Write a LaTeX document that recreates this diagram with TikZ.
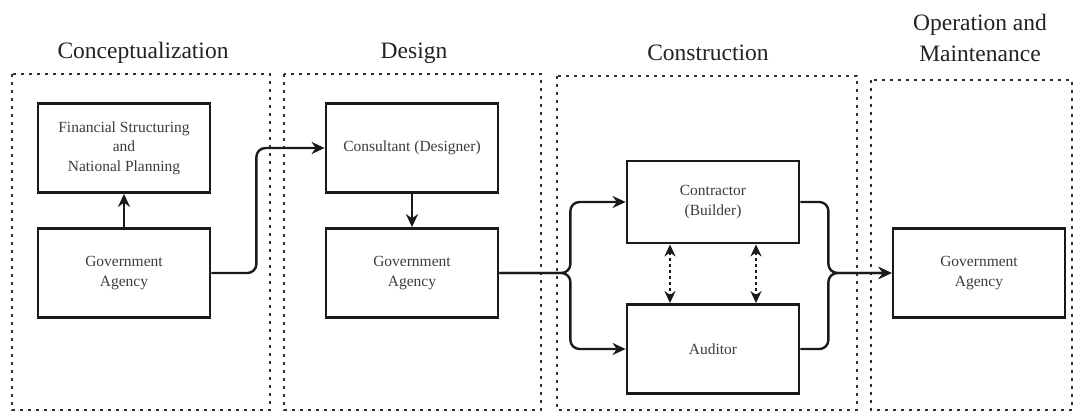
\documentclass[tikz,border=0pt]{standalone}
\usepackage{fontspec}
\setmainfont{Liberation Serif}
\usepackage{tikz}
\usetikzlibrary{arrows.meta, positioning, calc}

\definecolor{boxtext}{HTML}{3C3C3C}
\definecolor{titletext}{HTML}{222222}
\definecolor{lineblack}{HTML}{1A1A1A}

\begin{document}
\begin{tikzpicture}[
    x=1pt, y=-1pt,
    every node/.style={font=\fontsize{15.5}{19.5}\selectfont},
    actor/.style={rectangle, draw=lineblack, line width=2.8pt, text=boxtext, align=center, minimum width=172pt, minimum height=89pt, inner sep=2pt},
    phase/.style={draw=lineblack!90, line width=2.3pt, dash pattern=on 3pt off 5pt},
    phasetitle/.style={text=titletext, align=center, font=\fontsize{23.5}{31}\selectfont},
    arrow/.style={-{Stealth[length=13pt, width=12pt]}, line width=2.4pt, draw=lineblack},
    link/.style={{Stealth[length=12pt, width=11pt]}-{Stealth[length=12pt, width=11pt]}, line width=2.4pt, draw=lineblack, dash pattern=on 3pt off 3pt}
]
\useasboundingbox (0,0) rectangle (1077,412);

% --- Phase frames ---
\draw[phase] (12,74) rectangle (270,410);
\draw[phase] (284,74) rectangle (541,410);
\draw[phase] (557,76) rectangle (857,410);
\draw[phase] (871,80) rectangle (1072,410);

% --- Phase titles ---
\node[phasetitle] (tconc)  at (143,53) {Conceptualization};
\node[phasetitle] (tdes)   at (414,53) {Design};
\node[phasetitle] (tcons)  at (708,53) {Construction};
\node[phasetitle] (toper)  at (980,38) {Operation and\\Maintenance};

% --- Conceptualization ---
\node[actor] (fin)  at (124,148) {Financial Structuring\\and\\National Planning};
\node[actor] (gov1) at (124,273) {Government\\Agency};

% --- Design ---
\node[actor] (cons) at (412,148) {Consultant (Designer)};
\node[actor] (gov2) at (412,273) {Government\\Agency};

% --- Construction ---
\node[actor, minimum height=82pt] (contr) at (713,202) {Contractor\\(Builder)};
\node[actor] (aud) at (713,349) {Auditor};

% --- Operation and Maintenance ---
\node[actor] (gov3) at (979,273) {Government\\Agency};

% --- Connections ---
\draw[arrow] (gov1) -- (fin);
\draw[arrow, rounded corners=9pt] (gov1.east) -- ++(45,0) |- (cons.west);
\draw[arrow] (cons) -- (gov2);
\draw[arrow, rounded corners=9pt] (gov2.east) -- ++(71,0) |- (contr.west);
\draw[arrow, rounded corners=9pt] (gov2.east) -- ++(71,0) |- (aud.west);
\draw[arrow, rounded corners=9pt] (contr.east) -- ++(28,0) |- (gov3.west);
\draw[arrow, rounded corners=9pt] (aud.east) -- ++(28,0) |- (gov3.west);

% --- Contractor <-> Auditor ---
\draw[link] ([xshift=-43pt]contr.south) -- ([xshift=-43pt]aud.north);
\draw[link] ([xshift=43pt]contr.south) -- ([xshift=43pt]aud.north);

\end{tikzpicture}
\end{document}
